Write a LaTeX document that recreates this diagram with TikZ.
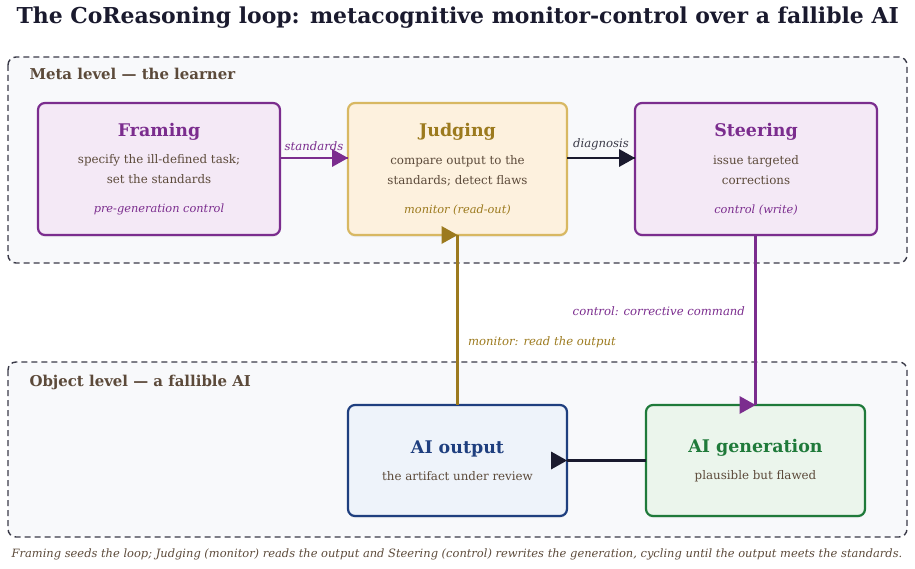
\documentclass[tikz,border=0pt]{standalone}
\usepackage{fontspec}
\setmainfont{DejaVu Serif}
\usetikzlibrary{arrows.meta,positioning,shadows}
\definecolor{ink}{HTML}{1A1A2E}
\definecolor{brown}{HTML}{5C4A3A}
\definecolor{purp}{HTML}{7B2D8E}
\definecolor{purpfill}{HTML}{F4E9F6}
\definecolor{gold}{HTML}{D8B862}
\definecolor{golddark}{HTML}{9C7A1E}
\definecolor{goldfill}{HTML}{FDF1DE}
\definecolor{navy}{HTML}{1F3F7F}
\definecolor{navyfill}{HTML}{EEF3FA}
\definecolor{green}{HTML}{1F7A3A}
\definecolor{greenfill}{HTML}{EBF5EC}
\definecolor{panel}{HTML}{F8F9FB}
\definecolor{dashline}{HTML}{3A3A48}
\tikzset{tiphead/.pic={\fill (0,0) -- (-16,-9) -- (-16,9) -- cycle;}}

\begin{document}
\begin{tikzpicture}[x=1bp,y=-1bp, every node/.style={font=\fontsize{11.9}{20}\selectfont, text=brown}, level/.style={draw=dashline,dashed,dash pattern=on 6bp off 4bp,line width=1.4bp,rounded corners=8bp,fill=panel}, levellabel/.style={anchor=base west,font=\bfseries\fontsize{15}{18}\selectfont}, card/.style={draw=#1,line width=2.2bp,outer sep=0pt,rounded corners=7bp,minimum height=132bp,align=center,drop shadow={shadow xshift=0bp,shadow yshift=-2bp,opacity=.10}}, wire/.style={line width=2.5bp}, elabel/.style={font=\itshape\fontsize{11.7}{14}\selectfont}]
\useasboundingbox (0,0) rectangle (915,569);
\node[anchor=base west,text=ink,font=\bfseries\fontsize{22}{26}\selectfont] (title) at (13,24) {The CoReasoning loop: metacognitive monitor-control over a fallible AI};
% the two levels
\draw[level] (8,57) rectangle (907,263);
\node[levellabel] (metalabel) at (26,80) {Meta level — the learner};
\draw[level] (8,362) rectangle (907,537);
\node[levellabel] (objlabel) at (26,386) {Object level — a fallible AI};
% meta level
\node[card=purp,fill=purpfill,minimum width=242bp] (framing) at (159,169) {{\bfseries\fontsize{17.5}{22}\selectfont\color{purp}Framing}\\[8pt] specify the ill-defined task;\\ set the standards\\[9pt] {\itshape\fontsize{11.4}{14}\selectfont\color{purp}pre-generation control}};
\node[card=gold,fill=goldfill,minimum width=219bp,right=68bp of framing] (judging) {{\bfseries\fontsize{17.5}{22}\selectfont\color{golddark}Judging}\\[8pt] compare output to the\\ standards; detect flaws\\[9pt] {\itshape\fontsize{11.4}{14}\selectfont\color{golddark}monitor (read-out)}};
\node[card=purp,fill=purpfill,minimum width=242bp,right=68bp of judging] (steering) {{\bfseries\fontsize{17.5}{22}\selectfont\color{purp}Steering}\\[8pt] issue targeted\\ corrections\\[9pt] {\itshape\fontsize{11.4}{14}\selectfont\color{purp}control (write)}};
% object level
\node[card=navy,fill=navyfill,minimum width=219bp,minimum height=111bp,below=170bp of judging] (aiout) {{\bfseries\fontsize{17.5}{22}\selectfont\color{navy}AI output}\\[7pt] the artifact under review};
\node[card=green,fill=greenfill,minimum width=219bp,minimum height=111bp,right=79bp of aiout] (aigen) {{\bfseries\fontsize{17.5}{22}\selectfont\color{green}AI generation}\\[7pt] plausible but flawed};
\coordinate (ctrl) at ([xshift=-0.5bp]steering.south);
% loop (the heads all point right, as drawn)
\draw[wire,draw=purp] ([yshift=11bp]framing.east) -- node[above=3bp,elabel,text=purp]{standards} ([yshift=11bp]judging.west);
\pic[color=purp] at ([yshift=11bp]judging.west) {tiphead};
\draw[wire,draw=ink] ([yshift=11bp]judging.east) -- node[above=3bp,elabel,text=dashline]{diagnosis} ([yshift=11bp]steering.west);
\pic[color=ink] at ([yshift=11bp]steering.west) {tiphead};
\draw[wire,draw=golddark] (aiout.north) -- node[pos=.37,right=6bp,elabel,text=golddark]{monitor: read the output} (judging.south);
\pic[color=golddark] at (judging.south) {tiphead};
\draw[wire,draw=purp] (ctrl) -- node[pos=.45,left=6bp,elabel,text=purp]{control: corrective command} (ctrl |- aigen.north);
\pic[color=purp] at (ctrl |- aigen.north) {tiphead};
\draw[wire,draw=ink] (aigen.west) -- (aiout.east);
\pic[color=ink] at (aiout.east) {tiphead};
\node[anchor=base,font=\itshape\fontsize{11.5}{14}\selectfont] (caption) at (457,557) {Framing seeds the loop; Judging (monitor) reads the output and Steering (control) rewrites the generation, cycling until the output meets the standards.};
\end{tikzpicture}
\end{document}
